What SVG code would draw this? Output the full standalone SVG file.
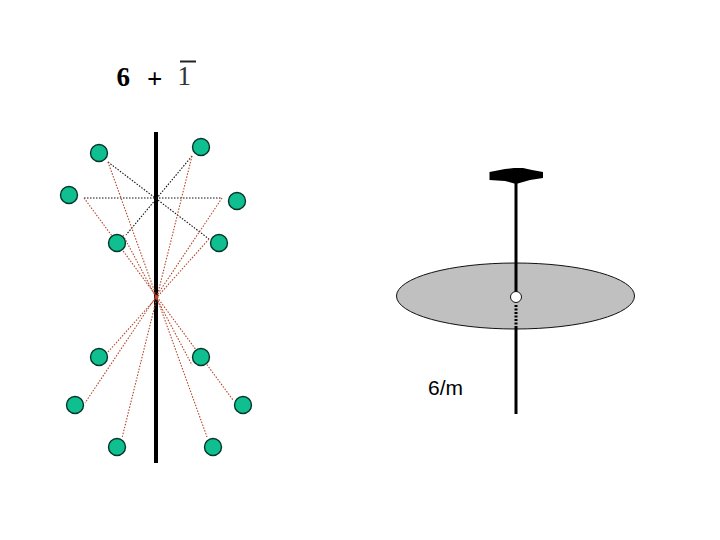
<svg xmlns="http://www.w3.org/2000/svg" width="720" height="540" viewBox="0 0 720 540">
<style>
.atom{fill:#10bf90;stroke:#06352a;stroke-width:1.4}
.blk{stroke:#111;stroke-width:1.100;stroke-dasharray:1.500 1.500;fill:none}
.red{stroke:#b5482a;stroke-width:1.100;stroke-dasharray:1.500 1.500;fill:none}
.ser{font-family:"Liberation Serif",serif;font-size:27px;fill:#000}
</style>
<rect width="720" height="540" fill="#fff"/>
<g id="title">
<text class="ser" x="116.500" y="85.500" font-weight="bold">6</text>
<text class="ser" x="147" y="88" font-size="24" font-weight="bold">+</text>
<text class="ser" x="177.500" y="85" style="fill:#333">1</text>
<line x1="180" y1="61.500" x2="196" y2="61.500" stroke="#222" stroke-width="2"/>
</g>
<g id="connectors">
<line id="axis" x1="156" y1="132" x2="156" y2="463" stroke="#000" stroke-width="4"/>
<line class="blk" x1="108" y1="162" x2="209" y2="239"/>
<line class="blk" x1="192" y1="156" x2="126" y2="235"/>
<line class="blk" x1="84" y1="198" x2="222" y2="198"/>
<line class="red" x1="108" y1="162" x2="207" y2="437"/>
<line class="red" x1="192" y1="156" x2="122" y2="438"/>
<line class="red" x1="84" y1="198" x2="233" y2="400"/>
<line class="red" x1="123" y1="235" x2="192" y2="365"/>
<line class="red" x1="222" y1="198" x2="85" y2="403"/>
<line class="red" x1="209" y1="239" x2="108" y2="352"/>
<circle cx="156.500" cy="297" r="2" fill="#c8452a"/>
</g>
<g id="atom-1"><circle class="atom" cx="99" cy="153" r="8.500"/></g>
<g id="atom-2"><circle class="atom" cx="201" cy="147" r="8.500"/></g>
<g id="atom-3"><circle class="atom" cx="69" cy="195" r="8.500"/></g>
<g id="atom-4"><circle class="atom" cx="237" cy="201" r="8.500"/></g>
<g id="atom-5"><circle class="atom" cx="117" cy="243" r="8.500"/></g>
<g id="atom-6"><circle class="atom" cx="219" cy="243" r="8.500"/></g>
<g id="atom-7"><circle class="atom" cx="99" cy="357" r="8.500"/></g>
<g id="atom-8"><circle class="atom" cx="201" cy="357" r="8.500"/></g>
<g id="atom-9"><circle class="atom" cx="75" cy="405" r="8.500"/></g>
<g id="atom-10"><circle class="atom" cx="243" cy="405" r="8.500"/></g>
<g id="atom-11"><circle class="atom" cx="117" cy="447" r="8.500"/></g>
<g id="atom-12"><circle class="atom" cx="213" cy="447" r="8.500"/></g>
<g id="plane"><ellipse cx="515.500" cy="296" rx="119" ry="33" fill="#c0c0c0" stroke="#111" stroke-width="1"/></g>
<g id="rotation-axis">
<line x1="516" y1="178" x2="516" y2="293" stroke="#000" stroke-width="3"/>
<line x1="516" y1="305" x2="516" y2="328" stroke="#000" stroke-width="3" stroke-dasharray="2 1.500"/>
<line x1="516" y1="328" x2="516" y2="414" stroke="#000" stroke-width="3"/>
</g>
<g id="sixfold-symbol"><path d="M489.500 172 L505 169 L514 168 L523 168 L532 170 L543 172 L543 178 L530 180 L516 184 L505 181 L489.500 180 Z" fill="#000"/></g>
<g id="inversion"><circle cx="516" cy="297" r="5.500" fill="#fff" stroke="#111" stroke-width="1"/></g>
<g id="label"><text x="428" y="394.500" font-family="'Liberation Sans',sans-serif" font-size="21" fill="#000">6/m</text></g>
</svg>
